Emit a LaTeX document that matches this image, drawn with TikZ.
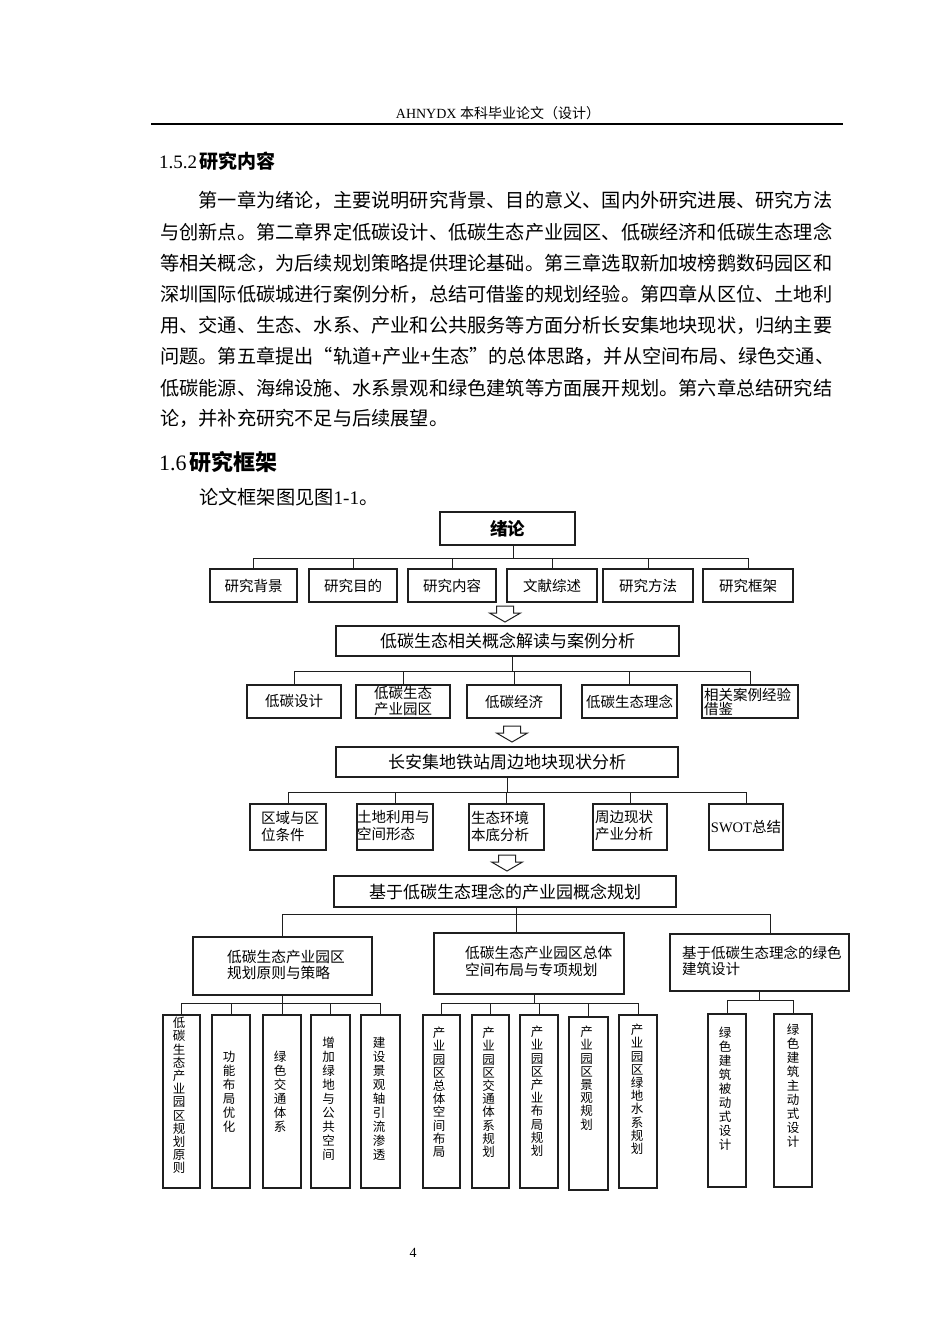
\documentclass[tikz,border=0pt]{standalone}
\usepackage{fontspec}
\setmainfont{Liberation Serif}
\newfontfamily\cjk{Noto Sans CJK SC}
\newfontfamily\lat{Liberation Serif}
\usetikzlibrary{calc}
\newcommand\fs[2]{\fontsize{#1}{#2}\selectfont}
\newcommand\jline[1]{\hbox to 678pt{\XeTeXlinebreaklocale "zh"\XeTeXlinebreakskip=0pt plus 1pt #1}}
\begin{document}
\begin{tikzpicture}[x=1pt,y=-1pt,
  box/.style={draw=black!88, line width=1.2pt, inner sep=0pt},
  conn/.style={draw=black!88, line width=1pt},
  lab/.style={font=\cjk\fs{14.5}{16}, inner sep=0pt, align=left},
  big/.style={font=\cjk\fs{17}{20}, inner sep=0pt},
  vt/.style={font=\cjk\fs{12.5}{14}, inner sep=0pt, align=center, anchor=north},
  vts/.style={vt, font=\cjk\fs{12.5}{13.2}},
  body/.style={font=\cjk\fs{19.2}{24}, inner sep=0pt, anchor=base west},
  hollow/.pic={\draw[draw=black!88, line width=1pt, fill=white, line join=miter]
     (-8.5,0) -- (-8.5,7) -- (-15.5,7) -- (0,16) -- (15.5,7) -- (8.5,7) -- (8.5,0) -- cycle;}]
\fill[white] (0,0) rectangle (950,1344);
\useasboundingbox (0,0) rectangle (950,1344);

% header
\node[anchor=base, inner sep=0pt] (hdr) at (498,118) {\fs{14}{16}{\lat AHNYDX} {\cjk 本科毕业论文（设计）}};
\coordinate (rl) at (151,124);
\coordinate (rr) at (843,124);
\draw[line width=1.5pt] (rl) -- (rr);

% section 1.5.2
\node[anchor=base west, inner sep=0pt] (h152) at (159,168) {\fs{19}{22}{\lat 1.5.2}\kern2pt{\cjk\bfseries 研究内容}};
\node[body] (p1) at (160,207.3) {\jline{\hspace*{2em}第一章为绪论，主要说明研究背景、目的意义、国内外研究进展、研究方法}};
\node[body] (p2) at (160,239.3) {\jline{与创新点。第二章界定低碳设计、低碳生态产业园区、低碳经济和低碳生态理念}};
\node[body] (p3) at (160,270.3) {\jline{等相关概念，为后续规划策略提供理论基础。第三章选取新加坡榜鹅数码园区和}};
\node[body] (p4) at (160,301.3) {\jline{深圳国际低碳城进行案例分析，总结可借鉴的规划经验。第四章从区位、土地利}};
\node[body] (p5) at (160,332.3) {\jline{用、交通、生态、水系、产业和公共服务等方面分析长安集地块现状，归纳主要}};
\node[body] (p6) at (160,363.3) {\jline{问题。第五章提出“轨道+产业+生态”的总体思路，并从空间布局、绿色交通、}};
\node[body] (p7) at (160,395.3) {\jline{低碳能源、海绵设施、水系景观和绿色建筑等方面展开规划。第六章总结研究结}};
\node[body] (p8) at (160,425.3) {论，并补充研究不足与后续展望。};

% section 1.6
\node[anchor=base west, inner sep=0pt] (h16) at (159,470) {\fs{22}{24}{\lat 1.6}\kern3pt{\cjk\bfseries 研究框架}};
\node[body] (p9) at (199,504) {论文框架图见图{\lat 1-1}。};

% ---------- level 0
\node[box, minimum width=135pt, minimum height=33pt, font=\cjk\bfseries\fs{17.5}{20}] (xulun) at (507.5,528.5) {绪论};
\node[box, lab, minimum width=87pt, minimum height=33pt] (r11) at (253.5,585.5) {研究背景};
\node[box, lab, minimum width=88pt, minimum height=33pt] (r12) at (353,585.5) {研究目的};
\node[box, lab, minimum width=88pt, minimum height=33pt] (r13) at (452,585.5) {研究内容};
\node[box, lab, minimum width=90pt, minimum height=33pt] (r14) at (552,585.5) {文献综述};
\node[box, lab, minimum width=90pt, minimum height=33pt] (r15) at (648,585.5) {研究方法};
\node[box, lab, minimum width=90pt, minimum height=33pt] (r16) at (748,585.5) {研究框架};
\coordinate (bus1) at (513,558);
\draw[conn] (xulun.south -| bus1) -- (bus1);
\foreach \n in {r11,r12,r13,r14,r15,r16} \draw[conn] (\n.north) |- (bus1);
\pic (ar1) at (505,606) {hollow};

% ---------- level 1
\node[box, big, minimum width=343pt, minimum height=30pt] (gainian) at (507.5,641) {低碳生态相关概念解读与案例分析};
\node[box, lab, minimum width=94pt, minimum height=33pt] (r21) at (294,701.5) {低碳设计};
\node[box, lab, align=center, minimum width=94pt, minimum height=33pt] (r22) at (403,701.5) {低碳生态\\产业园区};
\node[box, lab, minimum width=94pt, minimum height=33pt] (r23) at (514,701.5) {低碳经济};
\node[box, lab, minimum width=95pt, minimum height=33pt] (r24) at (629.5,701.5) {低碳生态理念};
\node[box, minimum width=96pt, minimum height=33pt] (r25) at (750,701.5) {};
\node[lab, font=\cjk\fs{14.5}{14}, anchor=west] (t25) at (704,702) {相关案例经验\\借鉴};
\coordinate (bus2) at (512,671);
\draw[conn] (gainian.south -| bus2) -- (bus2);
\foreach \n in {r21,r22,r23,r24,r25} \draw[conn] (\n.north) |- (bus2);
\pic (ar2) at (512,726) {hollow};

% ---------- level 2
\node[box, big, minimum width=342pt, minimum height=30pt] (changan) at (507,762) {长安集地铁站周边地块现状分析};
\node[box, minimum width=76pt, minimum height=46pt] (r31) at (288,827) {};
\node[box, minimum width=76pt, minimum height=46pt] (r32) at (395,827) {};
\node[box, minimum width=75pt, minimum height=46pt] (r33) at (506.5,827) {};
\node[box, minimum width=74pt, minimum height=46pt] (r34) at (630,827) {};
\node[box, lab, minimum width=74pt, minimum height=46pt] (r35) at (746,827) {{\lat SWOT}总结};
\node[lab, font=\cjk\fs{14.5}{17}, anchor=west] (t31) at (261,826) {区域与区\\位条件};
\node[lab, font=\cjk\fs{14.5}{17}, anchor=west] (t32) at (357,826) {土地利用与\\空间形态};
\node[lab, font=\cjk\fs{14.5}{17}, anchor=west] (t33) at (471,826) {生态环境\\本底分析};
\node[lab, font=\cjk\fs{14.5}{17}, anchor=west] (t34) at (595,826) {周边现状\\产业分析};
\coordinate (bus3) at (507,792);
\draw[conn] (changan.south -| bus3) -- (bus3);
\foreach \n in {r31,r32,r33,r34,r35} \draw[conn] (\n.north) |- (bus3);
\pic (ar3) at (507,855) {hollow};

% ---------- level 3
\node[box, big, minimum width=342pt, minimum height=31pt] (jiyu) at (505,891.5) {基于低碳生态理念的产业园概念规划};
\node[box, minimum width=179pt, minimum height=58pt] (A) at (282.5,966) {};
\node[box, minimum width=190pt, minimum height=61pt] (B) at (529,963.5) {};
\node[box, minimum width=179pt, minimum height=57pt] (C) at (759.5,962.5) {};
\node[lab, font=\cjk\fs{14.7}{16.5}, anchor=west] (tA) at (227,965) {低碳生态产业园区\\规划原则与策略};
\node[lab, font=\cjk\fs{14.7}{16.5}, anchor=west] (tB) at (465,961.5) {低碳生态产业园区总体\\空间布局与专项规划};
\node[lab, font=\cjk\fs{14.5}{16}, anchor=west] (tC) at (682,961) {基于低碳生态理念的绿色\\建筑设计};
\coordinate (bus4) at (516,914);
\draw[conn] (jiyu.south -| bus4) -- (bus4);
\draw[conn] (A.north) |- (bus4);
\draw[conn] (bus4) -- (bus4 |- B.north);
\draw[conn] ([xshift=10.5pt]C.north) |- (bus4);

% ---------- level 4
\node[box, minimum width=37pt, minimum height=173pt] (a1) at (181.5,1101.5) {};
\node[box, minimum width=38pt, minimum height=173pt] (a2) at (231,1101.5) {};
\node[box, minimum width=38pt, minimum height=173pt] (a3) at (282,1101.5) {};
\node[box, minimum width=39pt, minimum height=173pt] (a4) at (330.5,1101.5) {};
\node[box, minimum width=39pt, minimum height=173pt] (a5) at (380.5,1101.5) {};
\node[box, minimum width=37pt, minimum height=173pt] (b1) at (441.5,1101.5) {};
\node[box, minimum width=37pt, minimum height=173pt] (b2) at (490.5,1101.5) {};
\node[box, minimum width=38pt, minimum height=173pt] (b3) at (539,1101.5) {};
\node[box, minimum width=39pt, minimum height=173pt] (b4) at (588.5,1103.5) {};
\node[box, minimum width=38pt, minimum height=173pt] (b5) at (638,1101.5) {};
\node[box, minimum width=38pt, minimum height=173pt] (c1) at (727,1100.5) {};
\node[box, minimum width=38pt, minimum height=173pt] (c2) at (793,1100.5) {};

\node[vts] (va1) at (179,1017) {低\\碳\\生\\态\\产\\业\\园\\区\\规\\划\\原\\则};
\node[vt] (va2) at (229,1051) {功\\能\\布\\局\\优\\化};
\node[vt] (va3) at (280,1051) {绿\\色\\交\\通\\体\\系};
\node[vt] (va4) at (328.5,1037) {增\\加\\绿\\地\\与\\公\\共\\空\\间};
\node[vt] (va5) at (379,1037) {建\\设\\景\\观\\轴\\引\\流\\渗\\透};
\node[vts] (vb1) at (439,1027) {产\\业\\园\\区\\总\\体\\空\\间\\布\\局};
\node[vts] (vb2) at (488.5,1027) {产\\业\\园\\区\\交\\通\\体\\系\\规\\划};
\node[vts] (vb3) at (537,1026) {产\\业\\园\\区\\产\\业\\布\\局\\规\\划};
\node[vts] (vb4) at (586.5,1026) {产\\业\\园\\区\\景\\观\\规\\划};
\node[vts] (vb5) at (637,1024) {产\\业\\园\\区\\绿\\地\\水\\系\\规\\划};
\node[vt] (vc1) at (725,1027) {绿\\色\\建\\筑\\被\\动\\式\\设\\计};
\node[vt] (vc2) at (793,1024) {绿\\色\\建\\筑\\主\\动\\式\\设\\计};

\coordinate (busA) at (282.5,1003);
\draw[conn] (A.south) -- (busA);
\foreach \n in {a1,a2,a3,a4,a5} \draw[conn] (\n.north) |- (busA);
\coordinate (busB) at (534,1003);
\draw[conn] (B.south -| busB) -- (busB);
\foreach \n in {b1,b2,b3,b4,b5} \draw[conn] (\n.north) |- (busB);
\coordinate (busC) at (759.5,1000);
\draw[conn] (C.south) -- (busC);
\foreach \n in {c1,c2} \draw[conn] (\n.north) |- (busC);

% page number
\node[anchor=base, inner sep=0pt, font=\lat\fs{14}{16}] (pg) at (413,1257) {4};
\end{tikzpicture}
\end{document}
